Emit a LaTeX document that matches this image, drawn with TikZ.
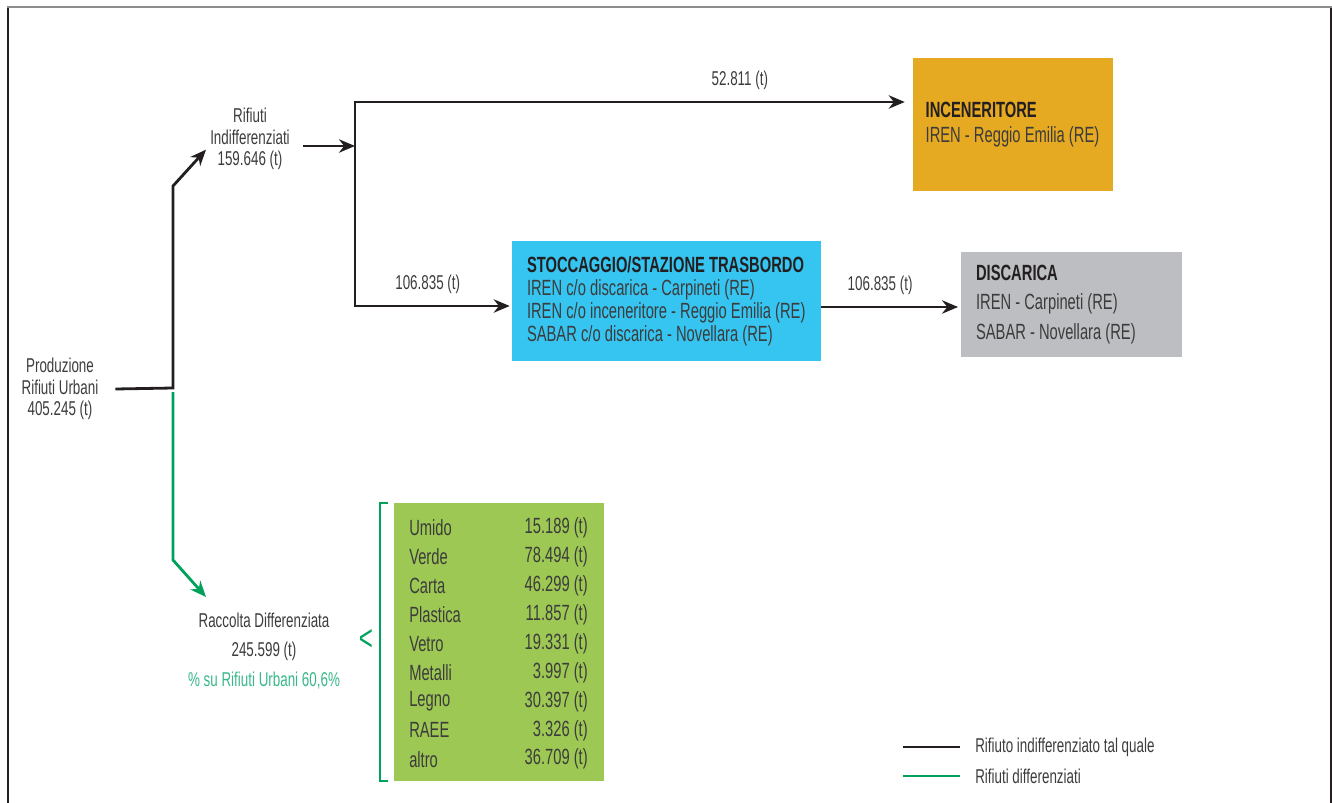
\documentclass[tikz,border=0pt]{standalone}
\usepackage{fontspec}
\setmainfont{Liberation Sans}[FakeStretch=0.67]
\usepackage{tikz}
\usetikzlibrary{arrows.meta, positioning, calc}
\usepackage{xcolor}
\definecolor{rifDark}  {HTML}{231F20}
\definecolor{rifText}  {HTML}{3C3C3C}
\definecolor{rifGreen} {HTML}{00A25B}
\definecolor{rifPct}   {HTML}{38B889}
\definecolor{rifInc}   {HTML}{E5A922}
\definecolor{rifStoc}  {HTML}{36C4F0}
\definecolor{rifDisc}  {HTML}{BDBEC1}
\definecolor{rifTab}   {HTML}{9DC853}
\definecolor{rifFrame} {HTML}{8C8C8C}
\newcommand\rifFont{\fontsize{15}{16.3}\selectfont}
\newcommand\boxFont{\fontsize{16.5}{17.25}\selectfont}
\newcommand\tabFont{\fontsize{16.5}{17}\selectfont}
\tikzset{
  lbl/.style   = {align=center, text=rifText, font=\rifFont, inner sep=0pt},
  block/.style = {rectangle, align=flush left, inner ysep=0pt, inner xsep=11.25pt,
                  text=rifText, font=\boxFont},
  arrow/.style = {-{Stealth[length=12pt, width=10pt]}, line width=2.1pt,
                  color=rifDark},
  garrow/.style= {-{Stealth[length=12pt, width=10pt]}, line width=2.1pt,
                  color=rifGreen},
}

\begin{document}
\begin{tikzpicture}[
  x=0.75pt, y=-0.75pt,
  frameline/.style={line width=1.5pt, color=rifDark},
  flowline/.style={line width=2.1pt},
]
\useasboundingbox (0,0) rectangle (1332,803);

% Frame
\draw[frameline] (8,803) -- (8,7);
\draw[frameline] (1331,7) -- (1331,803);
\draw[frameline, color=rifFrame] (7,7) -- (1332,7);

% Labels
\node[lbl] (prod)   at (60,389)  {Produzione\\Rifiuti Urbani\\405.245 (t)};
\node[lbl] (indiff) at (250,139) {Rifiuti\\Indifferenziati\\159.646 (t)};
\node[lbl] (racc)   at (264,651) {Raccolta Differenziata\\[5.5pt]245.599 (t)\\[5.5pt]
  \textcolor{rifPct}{\% su Rifiuti Urbani 60,6\%}};

% Boxes
\node[block, fill=rifInc, text width=131pt, inner xsep=9.5pt, minimum height=99.75pt]
  (inc) at (1013,124.5)
  {\textbf{\color{rifDark}INCENERITORE}\\[1.5pt]IREN - Reggio Emilia (RE)};
\node[block, fill=rifStoc, text width=209.25pt, minimum height=90pt]
  (stoc) at (666.5,301)
  {\textbf{\color{rifDark}STOCCAGGIO/STAZIONE TRASBORDO}\\
   IREN c/o discarica - Carpineti (RE)\\
   IREN c/o inceneritore - Reggio Emilia (RE)\\
   SABAR c/o discarica - Novellara (RE)};
\node[block, fill=rifDisc, text width=143.25pt, minimum height=78.75pt]
  (disc) at (1071.5,304.5)
  {\textbf{\color{rifDark}DISCARICA}\\[4.75pt]IREN - Carpineti (RE)\\[4.75pt]
   SABAR - Novellara (RE)};

% Junctions
\coordinate (split)  at (173,388);
\coordinate (bendup) at (173,186);
\coordinate (gbend)  at (173,560);
\coordinate (gtip)   at (206,597);
\coordinate (jmid)   at (355,146);
\coordinate (jtop)   at (355,102);
\coordinate (jbot)   at (355,306);

% Rifiuti indifferenziati
\draw[arrow] ([xshift=12.5pt]prod.east) -- (split) -- (bendup)
  -- ([shift={(-3pt,-8pt)}]indiff.west);
\draw[arrow] ([xshift=10pt]indiff.east |- jmid) -- (jmid);
\draw[arrow] (jbot) -- (jtop) -- ([xshift=-6pt]jtop -| inc.west)
  node[lbl, pos=0.7, above=8pt] {52.811 (t)};
\draw[arrow] (jtop) -- (jbot) -- ([xshift=-1.5pt]jbot -| stoc.west)
  node[lbl, pos=0.47, above=8pt] {106.835 (t)};
\draw[arrow] ([yshift=-4.5pt]stoc.east) -- ([yshift=-4.5pt,xshift=-2pt]stoc.east -| disc.west)
  node[lbl, pos=0.43, above=8pt] {106.835 (t)};

% Raccolta differenziata
\draw[garrow] ([yshift=-3pt]split) -- (gbend) -- (gtip);

% Table
\node[fill=rifTab, minimum width=157.5pt, minimum height=208.5pt, inner sep=0pt]
  (tab) at (499,642) {};
\foreach \name/\val [count=\i] in {Umido/15.189, Verde/78.494, Carta/46.299,
    Plastica/11.857, Vetro/19.331, Metalli/3.997, Legno/30.397, RAEE/3.326,
    altro/36.709}
{
  \node[lbl, font=\tabFont, anchor=west] (mat\i) at (409,{528+(\i-1)*28.9}) {\name};
  \node[lbl, font=\tabFont, anchor=east] (qty\i) at (588,{528+(\i-1)*28.9}) {\val\ (t)};
}
\draw[line width=1.2pt, color=rifGreen] ([xshift=-4.5pt]tab.north west)
  -- ([xshift=-10.5pt]tab.north west) -- ([xshift=-10.5pt]tab.south west)
  -- ([xshift=-4.5pt]tab.south west);
\node[lbl, text=rifGreen, font=\fontsize{27}{27}\selectfont] (lt) at (366,640) {<};

% Legend
\node[lbl, anchor=west] (leg1) at (975,747) {Rifiuto indifferenziato tal quale};
\node[lbl, anchor=west] (leg2) at (975,776) {Rifiuti differenziati};
\draw[flowline, color=rifDark]  ([xshift=-11.25pt]leg1.west) -- ++(-42.75pt,0);
\draw[flowline, color=rifGreen] ([xshift=-11.25pt]leg2.west) -- ++(-42.75pt,0);

\end{tikzpicture}
\end{document}
